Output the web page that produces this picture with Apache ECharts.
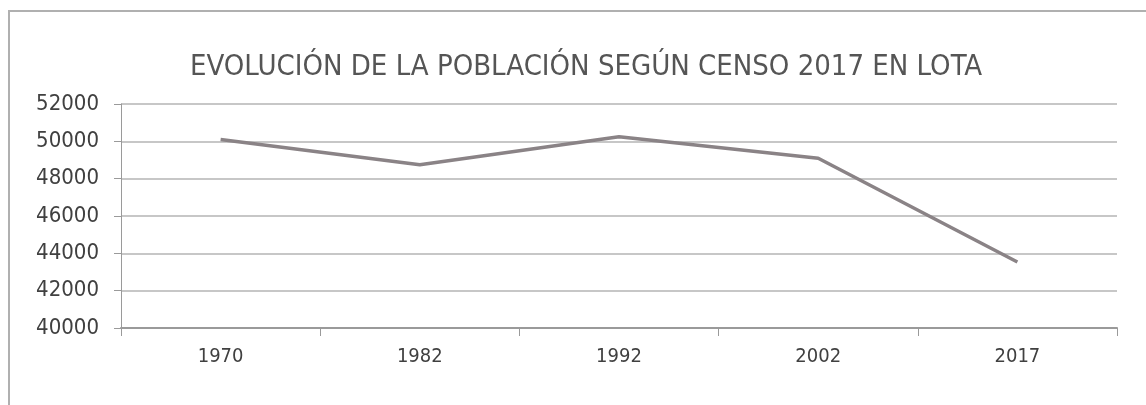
<!DOCTYPE html>
<html><head><meta charset="utf-8">
<script src="https://cdn.jsdelivr.net/npm/echarts@6/dist/echarts.min.js"></script>
<style>
html,body{margin:0;padding:0;background:#fff;}
#frame{position:absolute;left:8px;top:10px;width:1200px;height:420px;border-left:2px solid #b0b0b0;border-top:2px solid #b0b0b0;}
#c{position:absolute;left:0;top:0;width:1146px;height:405px;}
</style></head>
<body>
<div id="frame"></div>
<div id="c"></div>
<script>
const titleText = 'EVOLUCIÓN DE LA POBLACIÓN SEGÚN CENSO 2017 EN LOTA';
const years = ['1970', '1982', '1992', '2002', '2017'];
const population = [50100, 48750, 50250, 49090, 43535];

const font = '"DejaVu Sans Condensed","Liberation Sans Narrow",sans-serif';
const chart = echarts.init(document.getElementById('c'), null, {renderer:'canvas'});
chart.setOption({
  backgroundColor: 'transparent',
  animation: false,
  title: {
    text: titleText, left: 185, top: 48,
    textStyle: {fontFamily: font, fontSize: 29, fontWeight: 'normal', color: '#555'}
  },
  grid: {left: 121, right: 29, top: 104, bottom: 77},
  xAxis: {
    type: 'category', data: years, boundaryGap: true,
    axisLine: {lineStyle: {color: '#9a9a9a', width: 2}},
    axisTick: {show: true, alignWithLabel: false, length: 8, lineStyle: {color: '#9a9a9a', width: 1}},
    axisLabel: {fontFamily: font, fontSize: 20, color: '#404040', margin: 19}
  },
  yAxis: {
    type: 'value', min: 40000, max: 52000, interval: 2000,
    axisLine: {show: true, lineStyle: {color: '#9a9a9a', width: 1}},
    axisTick: {show: true, length: 7, lineStyle: {color: '#9a9a9a'}},
    splitLine: {lineStyle: {color: '#b5b5b5', width: 1.5}},
    axisLabel: {fontFamily: font, fontSize: 22, color: '#404040', margin: 22, formatter: v => String(v)}
  },
  series: [{
    type: 'line', data: population, symbol: 'none',
    lineStyle: {color: '#8a8386', width: 3.5}
  }]
});
</script>
</body></html>
